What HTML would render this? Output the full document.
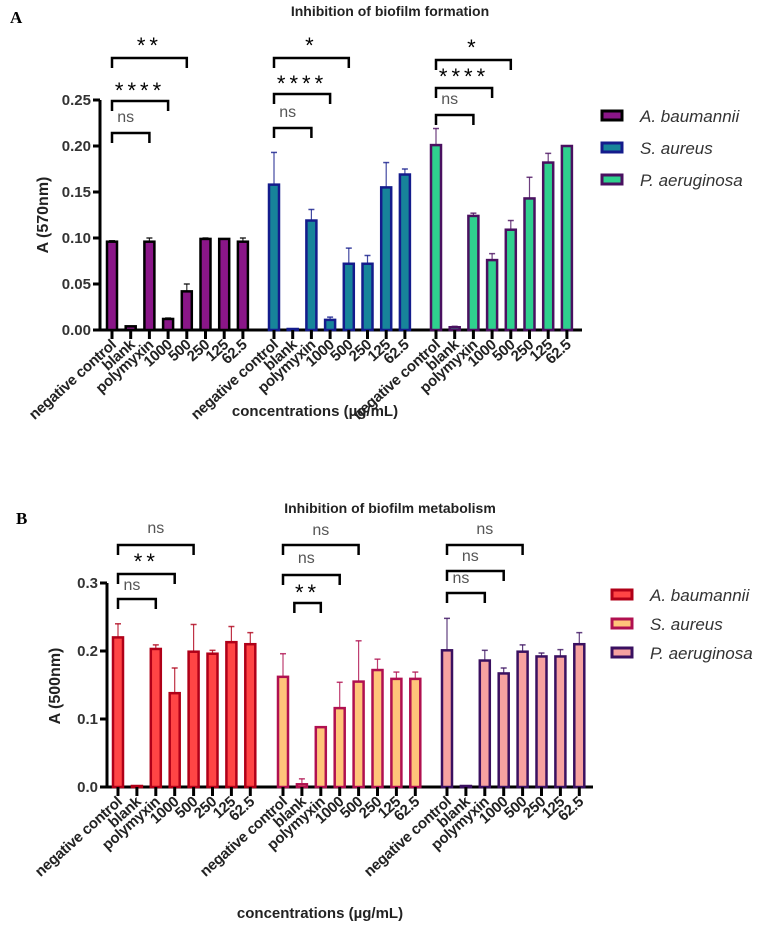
<!DOCTYPE html>
<html><head><meta charset="utf-8">
<style>
body{margin:0;background:#fff;}
svg{display:block;font-family:"Liberation Sans",sans-serif;}
</style></head>
<body>
<svg id="fig" width="784" height="933" viewBox="0 0 784 933">
<text x="10" y="23" font-family="Liberation Serif" font-weight="bold" font-size="17">A</text>
<text x="390" y="16" text-anchor="middle" font-weight="bold" font-size="14" fill="#222">Inhibition of biofilm formation</text>
<text x="315" y="416" text-anchor="middle" font-weight="bold" font-size="15" fill="#222">concentrations (µg/mL)</text>
<text transform="translate(48,215) rotate(-90)" text-anchor="middle" font-weight="bold" font-size="16" fill="#222">A (570nm)</text>
<text x="16" y="524" font-family="Liberation Serif" font-weight="bold" font-size="17">B</text>
<text x="390" y="513" text-anchor="middle" font-weight="bold" font-size="14" fill="#222">Inhibition of biofilm metabolism</text>
<text x="320" y="918" text-anchor="middle" font-weight="bold" font-size="15" fill="#222">concentrations (µg/mL)</text>
<text transform="translate(60,686) rotate(-90)" text-anchor="middle" font-weight="bold" font-size="16" fill="#222">A (500nm)</text>
</svg>
<script>
const categories=["negative control","blank","polymyxin","1000","500","250","125","62.5"];
const speciesNames=["A. baumannii","S. aureus","P. aeruginosa"];
const aValsAb=[0.096,0.004,0.096,0.012,0.042,0.099,0.099,0.096];
const aErrAb=[0.001,0,0.004,0.001,0.008,0.001,0,0.004];
const aValsSa=[0.158,0.001,0.119,0.011,0.072,0.072,0.155,0.169];
const aErrSa=[0.035,0,0.012,0.003,0.017,0.009,0.027,0.006];
const aValsPa=[0.201,0.003,0.124,0.076,0.109,0.143,0.182,0.200];
const aErrPa=[0.018,0.001,0.003,0.007,0.010,0.023,0.010,0];
const aTicks=[0,0.05,0.10,0.15,0.20,0.25];
const aTickLabels=["0.00","0.05","0.10","0.15","0.20","0.25"];
const bValsAb=[0.220,0.001,0.203,0.138,0.199,0.196,0.213,0.210];
const bErrAb=[0.020,0,0.006,0.037,0.040,0.005,0.023,0.017];
const bValsSa=[0.162,0.004,0.088,0.116,0.155,0.172,0.159,0.159];
const bErrSa=[0.034,0.008,0,0.038,0.060,0.016,0.010,0.010];
const bValsPa=[0.201,0.001,0.186,0.167,0.199,0.192,0.192,0.210];
const bErrPa=[0.047,0,0.015,0.008,0.010,0.005,0.010,0.017];
const bTicks=[0,0.1,0.2,0.3];
const bTickLabels=["0.0","0.1","0.2","0.3"];
const aSigLabels=[["ns","****","**"],["ns","****","*"],["ns","****","*"]];
const bSigLabels=[["ns","**","ns"],["**","ns","ns"],["ns","ns","ns"]];

const NS="http://www.w3.org/2000/svg";
const svg=document.getElementById('fig');
function mk(tag,attrs,parent){const e=document.createElementNS(NS,tag);for(const k in attrs)e.setAttribute(k,attrs[k]);(parent||svg).appendChild(e);return e;}

function drawChart(cfg){
  const g=mk('g',{});
  
  
  const y=v=>cfg.y0-v*cfg.scale;
  const x=(gi,ci)=>cfg.groupStart[gi]+ci*cfg.step;
  const ax=mk('line',{x1:cfg.axX,y1:y(cfg.ticks[cfg.ticks.length-1]),x2:cfg.axX,y2:cfg.y0,stroke:'#000','stroke-width':3},g);
  
  
  cfg.ticks.forEach((t,i)=>{
    mk('line',{x1:cfg.axX-7,y1:y(t),x2:cfg.axX,y2:y(t),stroke:'#000','stroke-width':3},g);
    const tl=mk('text',{x:cfg.axX-9,y:y(t)+5,'text-anchor':'end','font-size':15,'font-weight':'bold',fill:'#333'},g);
    tl.textContent=cfg.tickLabels[i];
    
    
  });
  const xa=mk('line',{x1:cfg.axX,y1:cfg.y0,x2:cfg.axEnd,y2:cfg.y0,stroke:'#000','stroke-width':3},g);
  
  
  cfg.series.forEach((s,gi)=>{
    s.vals.forEach((v,ci)=>{
      const cx=x(gi,ci);
      const top=y(v+s.err[ci]);
      if(s.err[ci]>0){
        mk('line',{x1:cx,y1:y(v),x2:cx,y2:top,stroke:s.stroke,'stroke-width':1.2,opacity:0.8},g);
        mk('line',{x1:cx-3,y1:top,x2:cx+3,y2:top,stroke:s.stroke,'stroke-width':1.5,opacity:0.8},g);
      }
      const h=Math.max(cfg.y0-y(v),1);
      const r=mk('rect',{x:cx-5,y:cfg.y0-h,width:10,height:h,fill:s.fill,stroke:s.stroke,'stroke-width':2.5},g);
      
      
      mk('line',{x1:cx,y1:cfg.y0,x2:cx,y2:cfg.y0+9,stroke:'#000','stroke-width':3},g);
      const lbl=mk('text',{transform:`translate(${cx+5},${cfg.y0+16}) rotate(-42)`,'text-anchor':'end','font-size':15,'font-weight':'bold',fill:'#222','letter-spacing':'-0.3'},g);
      lbl.textContent=categories[ci];
      
      
    });
    cfg.sig[gi].forEach((b,bi)=>{
      const x1=x(gi,b.from),x2=x(gi,b.to);
      mk('path',{d:`M${x1},${b.y+10}V${b.y}H${x2}V${b.y+10}`,fill:'none',stroke:'#000','stroke-width':2.5},g);
      const lab=cfg.sigLabels[gi][bi];
      const isNs=lab==='ns';
      const t=mk('text',{x:(x1+x2)/2-(isNs&&bi<2?5:0),y:isNs?b.ly:b.ly+4,'text-anchor':'middle','font-size':isNs?16:22,fill:isNs?'#555':'#000','font-weight':'normal','letter-spacing':isNs?0:4},g);
      t.textContent=lab;
      
      
    });
  });
  cfg.series.forEach((s,i)=>{
    const ly=cfg.legY+i*cfg.legStep;
    const le=mk('g',{},g);
    
    
    mk('rect',{x:cfg.legX,y:ly-5,width:20,height:9,fill:s.fill,stroke:s.stroke,'stroke-width':3},le);
    const lt=mk('text',{x:cfg.legX+38,y:ly+6,'font-size':17,'font-style':'italic',fill:'#333'},le);
    lt.textContent=speciesNames[i];
  });
}

drawChart({name:'chart-a',y0:330,scale:920,axX:100,axEnd:582,groupStart:[112,274,436],step:18.7,
  ticks:aTicks,tickLabels:aTickLabels,legX:602,legY:116,legStep:32,sigLabels:aSigLabels,
  series:[{key:'ab',vals:aValsAb,err:aErrAb,fill:'#8a1688',stroke:'#000'},
          {key:'sa',vals:aValsSa,err:aErrSa,fill:'#17849a',stroke:'#141c8c'},
          {key:'pa',vals:aValsPa,err:aErrPa,fill:'#2fd08e',stroke:'#4a1060'}],
  sig:[[{from:0,to:2,y:133,ly:122},{from:0,to:3,y:101,ly:94},{from:0,to:4,y:58,ly:49}],
       [{from:0,to:2,y:128,ly:117},{from:0,to:3,y:94,ly:87},{from:0,to:4,y:58,ly:49}],
       [{from:0,to:2,y:115,ly:104},{from:0,to:3,y:88,ly:80},{from:0,to:4,y:60,ly:51}]]
});
drawChart({name:'chart-b',y0:787,scale:680,axX:107,axEnd:593,groupStart:[118,283,447],step:18.9,
  ticks:bTicks,tickLabels:bTickLabels,legX:612,legY:595,legStep:29,sigLabels:bSigLabels,
  series:[{key:'ab',vals:bValsAb,err:bErrAb,fill:'#ff4545',stroke:'#b00018'},
          {key:'sa',vals:bValsSa,err:bErrSa,fill:'#ffc47a',stroke:'#b01050'},
          {key:'pa',vals:bValsPa,err:bErrPa,fill:'#f6a2a0',stroke:'#3a1060'}],
  sig:[[{from:0,to:2,y:599,ly:590},{from:0,to:3,y:574,ly:565},{from:0,to:4,y:545,ly:533}],
       [{from:0.6,to:2,y:603,ly:596},{from:0,to:3,y:575,ly:563},{from:0,to:4,y:545,ly:535}],
       [{from:0,to:2,y:593,ly:583},{from:0,to:3,y:571,ly:561},{from:0,to:4,y:545,ly:534}]]
});
</script>
</body></html>
